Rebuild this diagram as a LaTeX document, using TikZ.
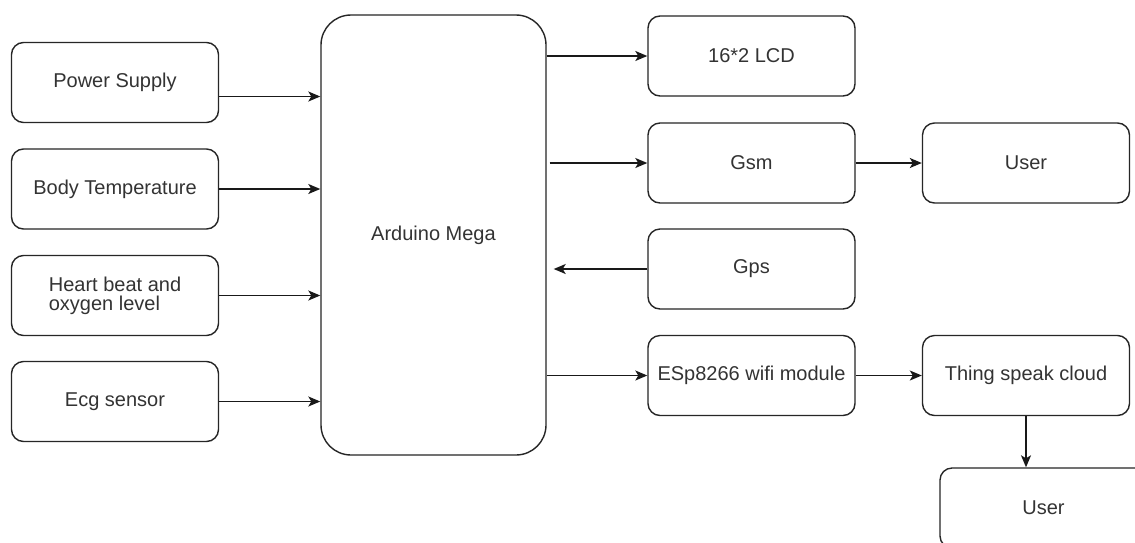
\documentclass[tikz,border=0pt]{standalone}
\usepackage{fontspec}
\setmainfont{Liberation Sans}
\usetikzlibrary{arrows.meta}

\begin{document}
\begin{tikzpicture}[x=0.5pt, y=-0.5pt,
		bloc/.style={draw=black!85, line width=0.7pt, rounded corners=6pt, minimum width=103.5pt, minimum height=40pt, inner sep=0pt, text=black!80, font=\fontsize{10}{9.5}\selectfont},
		carte/.style={bloc, rounded corners=15pt, minimum width=112.5pt, minimum height=220pt},
		fleche/.style={-{Stealth[length=6pt, width=5pt, inset=1.5pt]}, line width=0.7pt, draw=black!90}]
		\path[use as bounding box, fill=white] (0,0) rectangle (1135,542);
		\clip (0,0) rectangle (1135,542);
		% capteurs
		\node[bloc] (alim) at (115,82.5) {Power Supply};
		\node[bloc] (temp) at (115,189) {Body Temperature};
		\node[bloc, align=left] (coeur) at (115,295.5) {Heart beat and\\oxygen level};
		\node[bloc] (ecg) at (115,401.5) {Ecg sensor};
		% carte
		\node[carte] (mega) at (433.5,235) {Arduino Mega};
		% sorties
		\node[bloc] (lcd) at (751.5,56) {16*2 LCD};
		\node[bloc] (gsm) at (751.5,163) {Gsm};
		\node[bloc] (gps) at (751.5,269) {Gps};
		\node[bloc] (wifi) at (751.5,375.5) {ESp8266 wifi module};
		\node[bloc] (user1) at (1026,163) {User};
		\node[bloc] (cloud) at (1026,375.5) {Thing speak cloud};
		\node[bloc] (user2) at (1043.5,508) {User};
		% fleches
		\draw[fleche] ([yshift=-7pt]alim.east) -- ([yshift=-7pt]mega.west |- alim.east);
		\draw[fleche] (temp.east) -- (mega.west |- temp.east);
		\draw[fleche] (coeur.east) -- (mega.west |- coeur.east);
		\draw[fleche] (ecg.east) -- (mega.west |- ecg.east);
		\draw[fleche] (mega.east |- lcd.west) -- (lcd.west);
		\draw[fleche] ([xshift=1.5pt]mega.east |- gsm.west) -- (gsm.west);
		\draw[fleche] (gps.west) -- ([xshift=3.5pt]mega.east |- gps.west);
		\draw[fleche] (mega.east |- wifi.west) -- (wifi.west);
		\draw[fleche] (gsm.east) -- (user1.west);
		\draw[fleche] (wifi.east) -- (cloud.west);
		\draw[fleche] (cloud.south) -- (cloud.south |- user2.north);
\end{tikzpicture}
\end{document}
